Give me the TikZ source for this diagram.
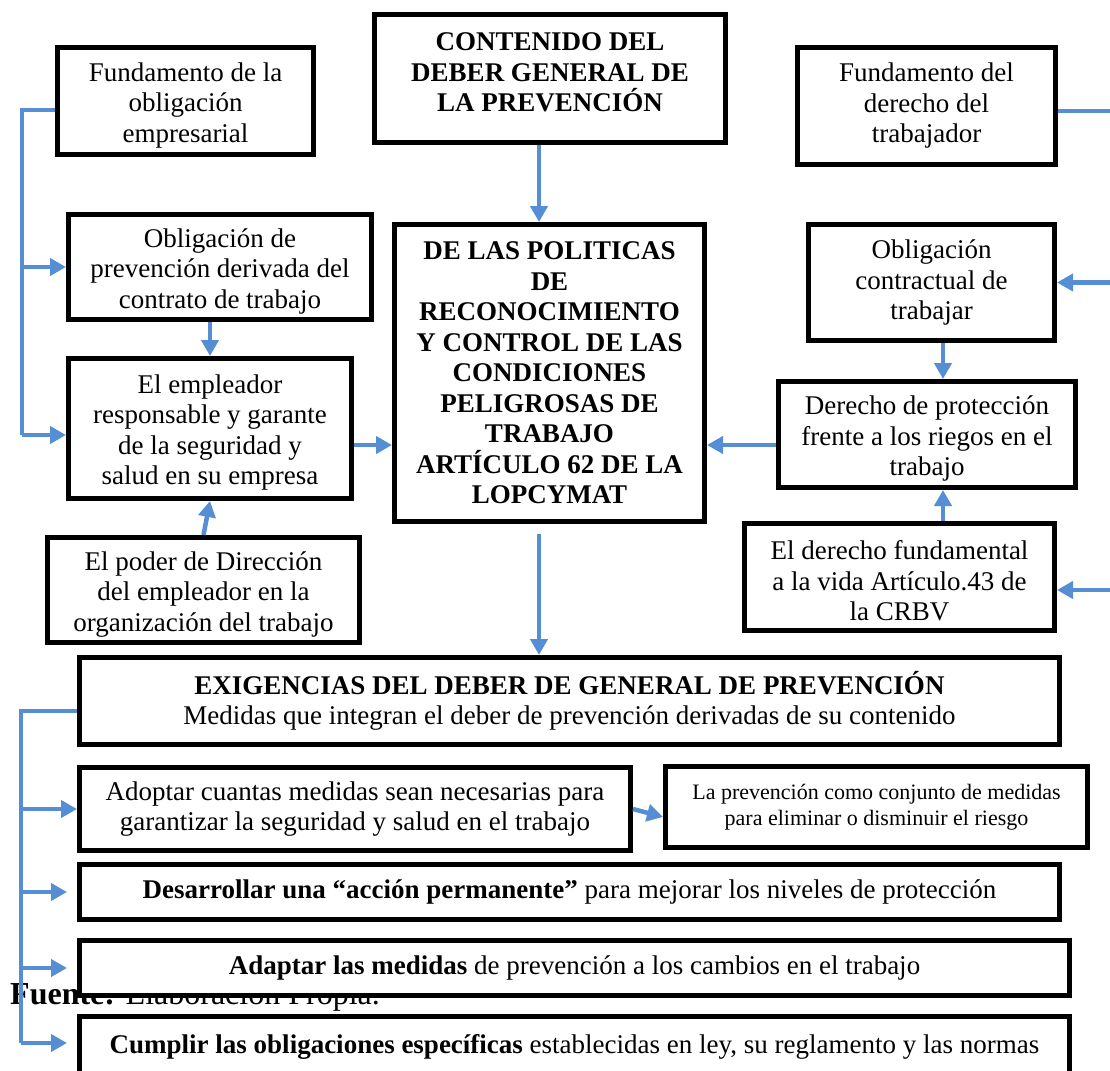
\documentclass[tikz,border=0pt]{standalone}
\usepackage{fontspec}
\setmainfont{Liberation Serif}
\usetikzlibrary{arrows.meta}
\definecolor{AzulFlecha}{HTML}{558ED5}
\newcommand{\empuje}{\rule{0pt}{27pt}}
\newcommand{\alzar}{\rule[-12pt]{0pt}{12pt}}

\begin{document}
\begin{tikzpicture}
	[x=1pt, y=-1pt,
	every node/.style = {shape=rectangle, align=center, inner sep=0pt,
		font=\fontsize{27}{30.5}\selectfont},
	caja/.style = {draw=black, line width=5pt, fill=white},
	linea/.style = {draw=AzulFlecha, line width=4.5pt},
	flecha/.style = {linea, -{Triangle[length=16pt,width=17pt]}}]
	\path[use as bounding box, fill=white] (0,0) rectangle (1110,1070);
	\node[anchor=base west, font=\fontsize{32}{36}\selectfont] (fuente) at (10,1004) {\textbf{Fuente:} Elaboración Propia.};
	% columna izquierda
	\node[caja, minimum width=256pt, minimum height=107pt] (fundEmp) at (185.5,101) {\empuje Fundamento de la\\obligación\\empresarial};
	\node[caja, minimum width=303pt, minimum height=105pt] (obligPrev) at (220,267) {\empuje Obligación de\\prevención derivada del\\contrato de trabajo};
	\node[caja, minimum width=283pt, minimum height=140pt] (empleador) at (210,428.5) {\empuje El empleador\\responsable y garante\\de la seguridad y\\salud en su empresa};
	\node[caja, minimum width=312pt, minimum height=105pt] (poder) at (203.5,590) {\empuje El poder de Dirección\\del empleador en la\\organización del trabajo};
	% centro
	\node[caja, minimum width=351pt, minimum height=128pt, font=\fontsize{27}{30.5}\selectfont\bfseries] (contenido) at (550,78.5) {CONTENIDO DEL\\DEBER GENERAL DE\\LA PREVENCIÓN\alzar};
	\node[caja, minimum width=310pt, minimum height=297pt, font=\fontsize{27}{30.5}\selectfont\bfseries] (politicas) at (549.5,373) {DE LAS POLITICAS\\DE\\RECONOCIMIENTO\\Y CONTROL DE LAS\\CONDICIONES\\PELIGROSAS DE\\TRABAJO\\ARTÍCULO 62 DE LA\\LOPCYMAT};
	% columna derecha
	\node[caja, minimum width=258pt, minimum height=117pt] (fundDer) at (926.5,106) {Fundamento del\\derecho del\\trabajador};
	\node[caja, minimum width=246pt, minimum height=116pt] (oblContr) at (931.5,282.5) {Obligación\\contractual de\\trabajar};
	\node[caja, minimum width=297pt, minimum height=106pt] (derechoProt) at (927,434.5) {\empuje Derecho de protección\\frente a los riegos en el\\trabajo};
	\node[caja, minimum width=310pt, minimum height=107pt] (derechoFund) at (899.5,577) {\empuje El derecho fundamental\\a la vida Artículo.43 de\\la CRBV};
	% exigencias
	\node[caja, minimum width=980pt, minimum height=87pt] (exigencias) at (569.5,701) {\textbf{EXIGENCIAS DEL DEBER DE GENERAL DE PREVENCIÓN}\\Medidas que integran el deber de prevención derivadas de su contenido};
	\node[caja, minimum width=551pt, minimum height=83pt] (adoptar) at (355,809) {Adoptar cuantas medidas sean necesarias para\\garantizar la seguridad y salud en el trabajo};
	\node[caja, minimum width=422pt, minimum height=81pt, font=\fontsize{22}{26}\selectfont] (prevencion) at (876.5,807) {La prevención como conjunto de medidas\\para eliminar o disminuir el riesgo};
	\node[caja, minimum width=980pt, minimum height=55pt] (desarrollar) at (569.5,892) {\textbf{Desarrollar una “acción permanente”} para mejorar los niveles de protección};
	\node[caja, minimum width=990pt, minimum height=55pt] (adaptar) at (574.5,968) {\textbf{Adaptar las medidas} de prevención a los cambios en el trabajo};
	\node[caja, minimum width=990pt, minimum height=62pt] (cumplir) at (574.5,1047) {\textbf{Cumplir las obligaciones específicas} establecidas en ley, su reglamento y las normas};
	% conectores izquierda
	\coordinate (busIzq) at (22,110);
	\coordinate (busIzqB) at (22,435);
	\draw[linea] (fundEmp.west |- busIzq) -- (busIzq) -- (busIzqB);
	\draw[flecha] (busIzq |- obligPrev.west) -- (obligPrev.west);
	\draw[flecha] (busIzqB) -- (busIzqB -| empleador.west);
	\draw[flecha] (empleador.north |- obligPrev.south) -- (empleador.north);
	\draw[flecha] (poder.north) -- (empleador.south);
	% conectores centro
	\coordinate (ejeC) at (539,0);
	\coordinate (yDC) at (0,445);
	\draw[flecha] (ejeC |- contenido.south) -- (ejeC |- politicas.north);
	\draw[flecha, shorten <=10pt] (ejeC |- politicas.south) -- (ejeC |- exigencias.north);
	\draw[flecha] (empleador.east |- yDC) -- (politicas.west |- yDC);
	\draw[flecha] (derechoProt.west |- yDC) -- (politicas.east |- yDC);
	% conectores derecha
	\coordinate (ejeR) at (943,0);
	\coordinate (busDer) at (1125,111);
	\coordinate (busDerB) at (1125,590);
	\draw[flecha] (ejeR |- oblContr.south) -- (ejeR |- derechoProt.north);
	\draw[flecha] (ejeR |- derechoFund.north) -- (ejeR |- derechoProt.south);
	\draw[linea] (fundDer.east |- busDer) -- (busDer) -- (busDerB);
	\draw[flecha] (busDer |- oblContr.east) -- (oblContr.east);
	\draw[flecha] (busDerB) -- (busDerB -| derechoFund.east);
	% conectores abajo
	\coordinate (busAb) at (21,711);
	\coordinate (busAbB) at (21,1043);
	\draw[linea] (exigencias.west |- busAb) -- (busAb) -- (busAbB);
	\draw[flecha] (busAb |- adoptar.west) -- (adoptar.west);
	\draw[flecha, shorten >=10pt] (busAb |- desarrollar.west) -- (desarrollar.west);
	\draw[flecha, shorten >=10pt] (busAb |- adaptar.west) -- (adaptar.west);
	\draw[flecha, shorten >=10pt] (busAbB) -- (busAbB -| cumplir.west);
	\draw[flecha] (adoptar.east) -- ([yshift=-10pt]prevencion.west);
\end{tikzpicture}
\end{document}
